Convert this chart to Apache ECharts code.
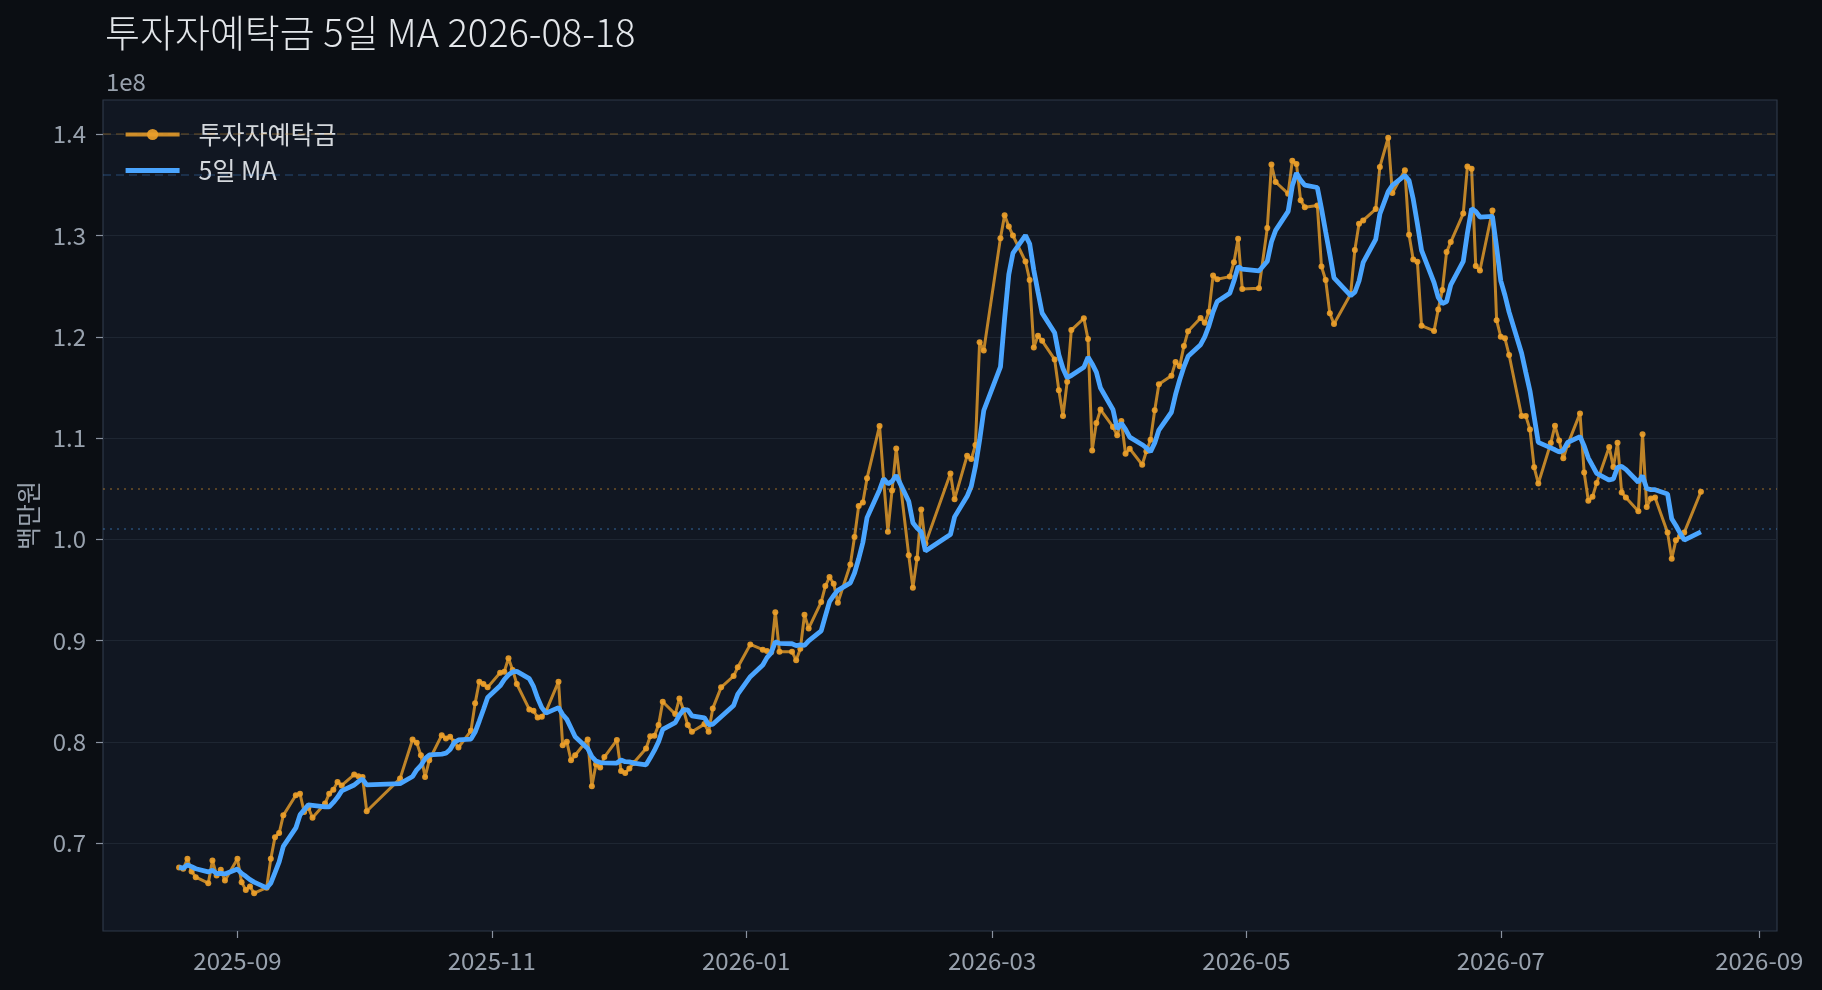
<!DOCTYPE html>
<html>
<head>
<meta charset="utf-8">
<script src="https://cdn.jsdelivr.net/npm/echarts@6/dist/echarts.min.js"></script>
<style>
html,body{margin:0;padding:0;background:#0b0e13;}
#chart{width:1822px;height:990px;}
</style>
</head>
<body>
<div id="chart"></div>
<script>
// ---- data (values in units of 1e8) ----
const titleText = '투자자예탁금 5일 MA 2026-08-18';
const rawName = '투자자예탁금';
const maName = '5일 MA';
const yAxisTitle = '백만원';
const yScaleText = '1e8';

const dates = [
'2025-08-18','2025-08-19','2025-08-20','2025-08-21','2025-08-22','2025-08-25','2025-08-26','2025-08-27','2025-08-28','2025-08-29',
'2025-09-01','2025-09-02','2025-09-03','2025-09-04','2025-09-05','2025-09-08','2025-09-09','2025-09-10','2025-09-11','2025-09-12',
'2025-09-15','2025-09-16','2025-09-17','2025-09-18','2025-09-19','2025-09-22','2025-09-23','2025-09-24','2025-09-25','2025-09-26',
'2025-09-29','2025-09-30',
'2025-10-01','2025-10-02','2025-10-10','2025-10-13','2025-10-14','2025-10-15','2025-10-16','2025-10-17','2025-10-20','2025-10-21',
'2025-10-22','2025-10-23','2025-10-24','2025-10-27','2025-10-28','2025-10-29','2025-10-30','2025-10-31',
'2025-11-03','2025-11-04','2025-11-05','2025-11-06','2025-11-07','2025-11-10','2025-11-11','2025-11-12','2025-11-13','2025-11-14',
'2025-11-17','2025-11-18','2025-11-19','2025-11-20','2025-11-21','2025-11-24','2025-11-25','2025-11-26','2025-11-27','2025-11-28',
'2025-12-01','2025-12-02','2025-12-03','2025-12-04','2025-12-05','2025-12-08','2025-12-09','2025-12-10','2025-12-11','2025-12-12',
'2025-12-15','2025-12-16','2025-12-17','2025-12-18','2025-12-19','2025-12-22','2025-12-23','2025-12-24','2025-12-26','2025-12-29',
'2025-12-30',
'2026-01-02','2026-01-05','2026-01-06','2026-01-07','2026-01-08','2026-01-09','2026-01-12','2026-01-13','2026-01-14','2026-01-15',
'2026-01-16','2026-01-19','2026-01-20','2026-01-21','2026-01-22','2026-01-23','2026-01-26','2026-01-27','2026-01-28','2026-01-29',
'2026-01-30',
'2026-02-02','2026-02-03','2026-02-04','2026-02-05','2026-02-06','2026-02-09','2026-02-10','2026-02-11','2026-02-12','2026-02-13',
'2026-02-19','2026-02-20','2026-02-23','2026-02-24','2026-02-25','2026-02-26','2026-02-27',
'2026-03-03','2026-03-04','2026-03-05','2026-03-06','2026-03-09','2026-03-10','2026-03-11','2026-03-12','2026-03-13','2026-03-16',
'2026-03-17','2026-03-18','2026-03-19','2026-03-20','2026-03-23','2026-03-24','2026-03-25','2026-03-26','2026-03-27','2026-03-30',
'2026-03-31',
'2026-04-01','2026-04-02','2026-04-03','2026-04-06','2026-04-07','2026-04-08','2026-04-09','2026-04-10','2026-04-13','2026-04-14',
'2026-04-15','2026-04-16','2026-04-17','2026-04-20','2026-04-21','2026-04-22','2026-04-23','2026-04-24','2026-04-27','2026-04-28',
'2026-04-29','2026-04-30',
'2026-05-04','2026-05-06','2026-05-07','2026-05-08','2026-05-11','2026-05-12','2026-05-13','2026-05-14','2026-05-15','2026-05-18',
'2026-05-19','2026-05-20','2026-05-21','2026-05-22','2026-05-26','2026-05-27','2026-05-28','2026-05-29',
'2026-06-01','2026-06-02','2026-06-04','2026-06-05','2026-06-08','2026-06-09','2026-06-10','2026-06-11','2026-06-12','2026-06-15',
'2026-06-16','2026-06-17','2026-06-18','2026-06-19','2026-06-22','2026-06-23','2026-06-24','2026-06-25','2026-06-26','2026-06-29',
'2026-06-30',
'2026-07-01','2026-07-02','2026-07-03','2026-07-06','2026-07-07','2026-07-08','2026-07-09','2026-07-10','2026-07-13','2026-07-14',
'2026-07-15','2026-07-16','2026-07-17','2026-07-20','2026-07-21','2026-07-22','2026-07-23','2026-07-24','2026-07-27','2026-07-28',
'2026-07-29','2026-07-30','2026-07-31',
'2026-08-03','2026-08-04','2026-08-05','2026-08-06','2026-08-07','2026-08-10','2026-08-11','2026-08-12','2026-08-13','2026-08-14',
'2026-08-18'
];

const deposits = [
0.676,0.6746,0.6845,0.672,0.6663,0.6604,0.6828,0.668,0.6736,0.663,
0.6845,0.6614,0.6538,0.6571,0.6505,0.656,0.6845,0.7059,0.7099,0.7274,
0.7472,0.7488,0.7307,0.735,0.725,0.739,0.7488,0.7528,0.7604,0.757,
0.7677,0.766,
0.7653,0.7314,0.7637,0.8023,0.799,0.7868,0.7653,0.7818,0.8066,0.8033,
0.805,0.80,0.7944,0.8109,0.838,0.8594,0.8571,0.8538,
0.8683,0.8693,0.8825,0.871,0.8571,0.832,0.8307,0.8241,0.8248,0.83,
0.8594,0.7967,0.80,0.7818,0.7868,0.8023,0.7561,0.7779,0.7746,0.785,
0.8017,0.7713,0.7693,0.7736,0.779,0.7934,0.8056,0.806,0.8165,0.8396,
0.8274,0.8429,0.8314,0.8165,0.8099,0.8175,0.8099,0.833,0.8538,0.865,
0.8736,
0.8962,0.891,0.8898,0.8885,0.928,0.889,0.889,0.8805,0.8918,0.9254,
0.912,0.938,0.9538,0.9627,0.9561,0.9373,0.9752,1.0023,1.033,1.0363,
1.0602,
1.112,1.058,1.0075,1.0483,1.0896,0.9843,0.9521,0.981,1.0294,0.9957,
1.065,1.0396,1.0825,1.0792,1.0931,1.1947,1.1864,
1.2974,1.3201,1.3089,1.30,1.2743,1.2561,1.1894,1.201,1.196,1.1776,
1.1472,1.1218,1.1555,1.2066,1.2182,1.1977,1.0878,1.1149,1.1281,1.1109,
1.1027,
1.1168,1.0845,1.0895,1.0736,1.087,1.0984,1.1274,1.1531,1.1614,1.175,
1.171,1.1908,1.2055,1.2185,1.2139,1.2248,1.2604,1.2568,1.2594,1.2736,
1.2967,1.2472,
1.2479,1.3073,1.37,1.3528,1.3413,1.3739,1.3706,1.3347,1.328,1.3297,
1.2693,1.2561,1.2231,1.2126,1.2423,1.2858,1.3116,1.3149,
1.3261,1.3677,1.3965,1.3419,1.3645,1.3008,1.2763,1.274,1.2109,1.2058,
1.227,1.2463,1.2836,1.2935,1.3216,1.3682,1.366,1.2698,1.2655,1.3246,
1.2163,
1.2001,1.1985,1.182,1.1218,1.1218,1.1085,1.0712,1.0551,1.095,1.1122,
1.0976,1.08,1.093,1.1243,1.066,1.038,1.042,1.0556,1.0911,1.0713,
1.0954,1.0462,1.0413,
1.0277,1.1037,1.032,1.0403,1.0413,1.0066,0.9809,0.999,1.003,1.0066,
1.0469
];

const yTicks = [0.7, 0.8, 0.9, 1.0, 1.1, 1.2, 1.3, 1.4];
const xTickDates = ['2025-09-01','2025-11-01','2026-01-01','2026-03-01','2026-05-01','2026-07-01','2026-09-01'];
const maWindow = 5;

// ---- derived ----
function ts(s){ const p = s.split('-'); return Date.UTC(+p[0], +p[1]-1, +p[2]); }
const times = dates.map(ts);
const ma5 = deposits.map(function(v, i){
  const a = deposits.slice(Math.max(0, i - maWindow + 1), i + 1);
  return a.reduce(function(s, x){ return s + x; }, 0) / a.length;
});
const rawPairs = times.map(function(t, i){ return [t, deposits[i]]; });
const maPairs = times.map(function(t, i){ return [t, ma5[i]]; });

const allVals = deposits.concat(ma5);
const vMin = Math.min.apply(null, allVals), vMax = Math.max.apply(null, allVals);
const yPad = (vMax - vMin) * 0.05;
const tMin = times[0], tMax = times[times.length - 1];
const xPad = (tMax - tMin) * 0.05;
const rawMax = Math.max.apply(null, deposits);
const maMax = Math.max.apply(null, ma5);
const rawLast = deposits[deposits.length - 1];
const maLast = ma5[ma5.length - 1];
const xTickTimes = xTickDates.map(ts);

const FONT = 'Noto Sans CJK KR';
const ORANGE = '#eba02a';
const BLUE = '#4aa5ff';
const TICKC = '#98a1ad';
const pad2 = function(n){ return (n < 10 ? '0' : '') + n; };

const chart = echarts.init(document.getElementById('chart'), null, {renderer: 'canvas'});
chart.setOption({
  animation: false,
  backgroundColor: '#0b0e13',
  textStyle: {fontFamily: FONT},
  title: {
    text: titleText, left: 100, top: 9,
    textStyle: {color: '#e4e7eb', fontSize: 38, fontWeight: 300, fontFamily: FONT}
  },
  legend: {
    orient: 'vertical', left: 118, top: 117,
    itemWidth: 54, itemHeight: 14, itemGap: 11,
    textStyle: {color: '#d4d8dd', fontSize: 25, fontFamily: FONT, padding: [0,0,0,14]},
    data: [
      {name: rawName, lineStyle: {width: 4.2, opacity: 0.85}},
      {name: maName, lineStyle: {width: 5.2}, itemStyle: {opacity: 0}}
    ]
  },
  grid: {
    left: 103, right: 45, top: 100, bottom: 59,
    show: true, backgroundColor: '#111722', borderColor: '#2e3848', borderWidth: 1.2
  },
  xAxis: {
    type: 'value',
    min: tMin - xPad, max: tMax + xPad,
    axisLine: {show: false},
    axisTick: {show: true, length: 7, lineStyle: {color: '#8a93a0', width: 1.2}, customValues: xTickTimes},
    axisLabel: {
      color: TICKC, fontSize: 24, fontFamily: FONT, margin: 18,
      customValues: xTickTimes,
      formatter: function(v){ const d = new Date(v); return d.getUTCFullYear() + '-' + pad2(d.getUTCMonth() + 1); }
    },
    splitLine: {show: false}
  },
  yAxis: [{
    type: 'value',
    min: vMin - yPad, max: vMax + yPad,
    name: yScaleText, nameLocation: 'end', nameGap: 6,
    nameTextStyle: {color: TICKC, fontSize: 24, fontFamily: FONT, align: 'left', verticalAlign: 'bottom', padding: [0,0,0,3]},
    axisLine: {show: false},
    axisTick: {show: true, length: 7, lineStyle: {color: '#8a93a0', width: 1.2}, customValues: yTicks},
    axisLabel: {color: TICKC, fontSize: 24, fontFamily: FONT, margin: 17, customValues: yTicks,
      formatter: function(v){ return (+v).toFixed(1); }},
    splitLine: {show: true, lineStyle: {color: '#1e2632', width: 1.2}}
  }, {
    type: 'value',
    min: vMin - yPad, max: vMax + yPad,
    position: 'left',
    name: yAxisTitle, nameLocation: 'middle', nameGap: 62, nameRotate: 90,
    nameTextStyle: {color: TICKC, fontSize: 25, fontFamily: FONT},
    axisLine: {show: false}, axisTick: {show: false}, axisLabel: {show: false}, splitLine: {show: false}
  }],
  series: [{
    name: rawName, type: 'line', yAxisIndex: 0,
    data: rawPairs,
    symbol: 'circle', symbolSize: 6, showAllSymbol: true,
    lineStyle: {color: ORANGE, width: 3, opacity: 0.8},
    itemStyle: {color: ORANGE, opacity: 0.92},
    z: 2,
    markLine: {
      silent: true, symbol: 'none', label: {show: false},
      data: [
        {yAxis: rawMax, lineStyle: {color: 'rgba(235,160,42,0.28)', width: 1.5, type: [8, 5]}},
        {yAxis: rawLast, lineStyle: {color: 'rgba(235,160,42,0.32)', width: 1.8, type: [2, 5]}}
      ]
    }
  }, {
    name: maName, type: 'line', yAxisIndex: 0,
    data: maPairs,
    symbol: 'none',
    lineStyle: {color: BLUE, width: 4.8},
    itemStyle: {color: BLUE},
    z: 3,
    markLine: {
      silent: true, symbol: 'none', label: {show: false},
      data: [
        {yAxis: maMax, lineStyle: {color: 'rgba(74,165,255,0.25)', width: 1.5, type: [8, 5]}},
        {yAxis: maLast, lineStyle: {color: 'rgba(74,165,255,0.28)', width: 1.8, type: [2, 5]}}
      ]
    }
  }]
});
</script>
</body>
</html>
